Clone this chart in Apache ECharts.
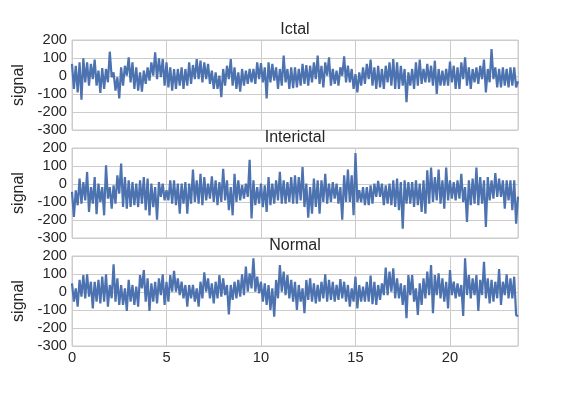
<!DOCTYPE html>
<html lang="en">
<head>
    <meta charset="UTF-8">
    <title>eeg_signals</title>
    <style>
        html, body { margin: 0; padding: 0; background: #fff; }
        #main { width: 576px; height: 396px; }
    </style>
</head>
<body>
    <div id="main"></div>
</body>
<script src="https://cdn.jsdelivr.net/npm/echarts@6/dist/echarts.min.js"></script>
<script>
    // samples, one every 0.1 s
    var step = 0.1
    var titles = ['Ictal', 'Interictal', 'Normal']
    var xTicks = [0, 5, 10, 15, 20]
    var yTicks = [-300, -200, -100, 0, 100, 200]

    var ictal = [
        67,-72,57,-91,76,-131,98,-35,76,-54, 67,-17,91,-54,30,-94,44,-72,39,-35,
        135,-7,20,-81,-7,-124,48,-54,57,2, 104,-35,76,-72,48,-81,20,-87,30,-44,
        48,-26,76,2,131,-17,98,-7,94,-54, 76,-63,48,-81,39,-72,39,-54,
        48,-72,39,-54,76,-44,61,-17,94,-17, 85,-35,76,-17,67,-44,30,-72,20,-72,
        2,-118,39,-54,57,-17,94,-54,48,-72, 20,-87,39,-54,30,-44,39,-35,39,-44,
        76,-17,72,-35,48,-124,76,-35,67,-26, 48,-72,39,-54,113,-35,39,-72,48,-68,
        48,-63,39,-54,67,-44,61,-54,57,-35, 76,-17,113,-44,57,-63,76,2,104,-54,
        39,-44,30,-54,48,2,109,-35,57,-35, 39,-72,11,-91,20,-54,48,-44,67,-17,
        91,-54,48,-72,57,-63,39,-72,57,-35, 76,-54,94,-72,76,-72,57,-54,39,-146,
        20,-54,
        39,-72,76,-54,91,-44,39,-35,67,-35, 57,-54,85,-100,39,-54,30,-54,39,-54,
        80,-35,57,-72,48,-72,76,-17,104,-54, 48,-72,39,-35,48,-44,57,-17,91,-91,
        39,-35,150,-17,48,-63,39,-63,48,-54, 39,-63,48,-54,48,-63, -30
    ]
    var interictal = [
        -44,-183,-35,-118,30,-109,11,-91,67,-155, -17,-109,39,-168,2,-100,-17,-174,104,-81,
        -17,-137,-7,-109,48,-54,113,-128,39,-137, 20,-128,11,-118,2,-128,20,-109,39,-146,
        30,-174,2,-128,-17,-198,11,-72,2,-91, -35,-91,20,-109,20,-118,2,-165,
        2,-109,11,-165,2,-109,80,-100,20,-109, 57,-118,39,-91,2,-81,43,-100,20,-118,
        11,-100,85,-91,20,-146,-17,-174,57,-100, 20,-91,-7,-81,2,-72,135,-192,20,-118,
        -17,-109,2,-128,-7,-155,39,-118,2,-109, 20,-91,67,-109,20,-109,11,-100,39,-109,
        48,-109,39,-91,94,-128,2,-187,-17,-165, 30,-128,20,-165,20,-100,57,-109,2,-100,
        11,-81,2,-109,-17,-198,48,-100,80,-100, 48,-174,172,-100,-35,-100,-17,-118,-17,-118,
        -7,-109,2,-72,17,-72,2,-118,-7,-109, 2,-118,20,-128,30,-146,11,-248,20,-109,
        11,-109,
        11,-128,20,-118,2,-155,20,-165,76,-109, 91,-100,39,-91,80,-109,20,-137,91,-91,
        20,-81,11,-91,20,-81,57,-100,-17,-211, 20,-118,30,-109,91,-118,39,-109,20,-239,
        39,-91,20,-81,61,-72,30,-72,20,-137, 20,-91,20,-146,20,-220, -70
    ]
    var normal = [
        48,-54,20,-81,67,-26,94,-35,98,-26, 57,-91,57,-54,67,-63,85,-54,98,-81,
        39,-35,154,-54,76,-72,39,-72,20,-105, 67,-54,39,-72,30,-81,94,20,122,-54,
        76,-105,48,-54,57,-63,76,-17,98,-72, 57,-54,94,2,117,2,76,-17,
        57,-35,39,-81,39,-35,39,-54,20,-81, 57,-35,109,2,76,-35,48,-63,57,-35,
        94,-26,76,-17,39,-124,39,-44,57,-35, 67,-26,98,-17,141,2,104,20,187,2,
        85,-7,57,-54,48,-72,39,-100,20,-137, 67,-35,150,2,113,-17,94,-35,67,-54,
        57,-100,39,-54,20,-118,67,-44,76,-54, 48,-63,39,-54,57,-35,98,-54,67,-44,
        57,-54,39,-44,72,-35,57,-54,39,-81, 20,-54,85,-91,39,-54,30,-54,57,-54,
        91,-68,57,-72,39,-44,48,-17,135,-17, 113,2,131,-35,76,-35,48,-72,39,-146,
        94,-17,
        94,-54,20,-128,48,-72,76,-35,113,-17, 150,-118,94,-17,104,-35,76,-54,57,-91,
        122,-17,57,-35,48,-26,39,-133,187,-17, 94,-35,76,-17,94,-105,67,-17,168,-35,
        76,-63,67,-54,57,-35,128,-72,57,-17, 98,-35,76,-35,85,-128, -135
    ]
    var signals = [ictal, interictal, normal]

    var main = echarts.init(document.getElementById('main'))
    var font = 'Arial, "Liberation Sans", sans-serif'
    var gridTops = [40, 148, 256]

    function pairs(values) {
        return values.map(function (v, i) {
            return [+(i * step).toFixed(1), v]
        })
    }

    var option = {
        animation: false,
        backgroundColor: '#fff',
        textStyle: { fontFamily: font },
        title: titles.map(function (t, i) {
            return {
                text: t,
                left: 295,
                top: gridTops[i] - 18,
                textAlign: 'center',
                padding: 0,
                textStyle: { fontSize: 16, fontWeight: 'normal', color: '#262626', fontFamily: font }
            }
        }),
        grid: gridTops.map(function (top) {
            return { left: 72, right: 58, top: top, height: 90, show: true, borderColor: '#cccccc', borderWidth: 1 }
        }),
        xAxis: gridTops.map(function (top, i) {
            return {
                type: 'value',
                gridIndex: i,
                min: xTicks[0],
                max: 23.6,
                interval: 5,
                axisLine: { show: false },
                axisTick: { show: false },
                axisLabel: { show: i === 2, showMaxLabel: false, fontSize: 14.7, color: '#262626', margin: 4 },
                splitLine: { lineStyle: { color: '#cccccc', width: 1 } }
            }
        }),
        yAxis: gridTops.map(function (top, i) {
            return {
                type: 'value',
                gridIndex: i,
                min: yTicks[0],
                max: yTicks[yTicks.length - 1],
                interval: 100,
                name: 'signal',
                nameLocation: 'middle',
                nameGap: 41,
                nameTextStyle: { fontSize: 16, color: '#262626' },
                axisLine: { show: false },
                axisTick: { show: false },
                axisLabel: { fontSize: 14.7, color: '#262626', margin: 5 },
                splitLine: { lineStyle: { color: '#cccccc', width: 1 } }
            }
        }),
        series: signals.map(function (s, i) {
            return {
                type: 'line',
                xAxisIndex: i,
                yAxisIndex: i,
                data: pairs(s),
                showSymbol: false,
                lineStyle: { color: '#4c72b0', width: 2.2 },
                itemStyle: { color: '#4c72b0' }
            }
        })
    }
    main.setOption(option)
</script>
</html>
